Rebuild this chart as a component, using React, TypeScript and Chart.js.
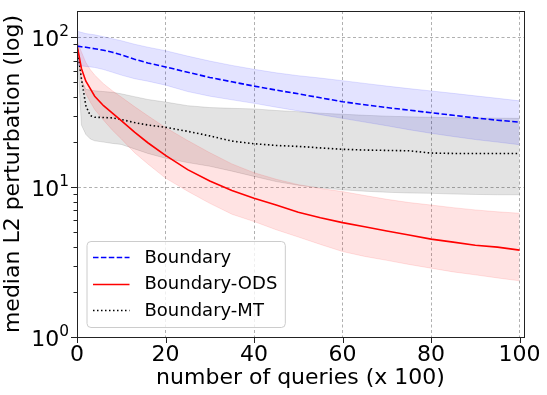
import React, { useEffect, useRef } from 'react';
import { Chart, registerables } from 'chart.js';

Chart.register(...registerables);

// number of queries (x 100)
const queries = [0, 1, 2, 3, 4, 6, 8, 10, 13, 16, 20, 25, 30, 35, 40, 45, 50, 55, 60, 65, 70, 75, 80, 85, 90, 95, 100];

// Boundary (blue dashed)
const boundaryMedian = [87.5, 86.5, 86, 85, 84, 82, 79.5, 76.5, 71.5, 67.5, 63.5, 58.5, 54, 50.5, 47.3, 44.5, 42, 39.5, 37.2, 35.5, 34, 32.7, 31.4, 30.2, 29, 28, 27.2];
const boundaryUpper = [110, 108, 106, 105, 104, 101, 98, 95, 90, 86, 81.5, 75, 69.5, 65, 61.2, 58, 55.5, 53.5, 51.4, 49.3, 47.3, 45.5, 43.9, 42.3, 40.7, 39.2, 37.7];
const boundaryLower = [65, 64.5, 64, 63.5, 63, 61, 58.5, 56, 53, 51, 48, 43.5, 40.5, 38.3, 36.3, 34.2, 32.3, 30.5, 28.8, 27.2, 25.7, 24.2, 22.9, 21.8, 20.8, 20, 19.2];

// Boundary-ODS (red solid)
const odsMedian = [89, 62, 51, 45.5, 40.5, 35, 31.2, 27.8, 23.3, 19.8, 16.3, 13.1, 11, 9.5, 8.45, 7.6, 6.8, 6.25, 5.8, 5.45, 5.1, 4.8, 4.5, 4.3, 4.1, 3.98, 3.8];
const odsUpper = [95, 80, 68, 61, 56, 49, 44, 40, 34.5, 30, 25, 20.5, 17, 14.3, 12.5, 11.3, 10.4, 9.8, 9.35, 8.8, 8.3, 7.9, 7.6, 7.3, 7.05, 6.85, 6.7];
const odsLower = [80, 52, 42, 37, 33, 28, 24, 21, 17, 14.3, 11.5, 9.4, 7.8, 6.6, 5.9, 5.2, 4.65, 4.15, 3.72, 3.45, 3.25, 3.05, 2.88, 2.72, 2.6, 2.48, 2.37];

// Boundary-MT (black dotted)
const mtMedian = [88, 53, 35, 30, 29.3, 29.2, 29, 28.3, 27, 26, 25.1, 23.6, 22, 20.3, 19.5, 19, 18.7, 18.3, 17.9, 17.7, 17.6, 17.5, 16.9, 16.8, 16.8, 16.8, 16.8];
const mtUpper = [88, 52, 45, 44.5, 44, 43.5, 43, 42, 40.2, 38.5, 37, 35, 34, 33.6, 33.3, 32.5, 31.9, 31.2, 30.7, 30.2, 29.8, 29.5, 29.3, 29.1, 29, 28.9, 28.8];
const mtLower = [85, 26, 22.5, 21, 20.4, 20, 19.6, 19.3, 18, 16.8, 15.6, 14.6, 13.8, 12.8, 11.8, 10.9, 10.3, 9.9, 9.6, 9.4, 9.25, 9.15, 9.1, 9.0, 8.95, 8.9, 8.9];

const seriesLabels = ['Boundary', 'Boundary-ODS', 'Boundary-MT'];
const xTickValues = [0, 20, 40, 60, 80, 100];
const yMajorValues = [1, 10, 100];
const yMinorValues = [2, 3, 4, 5, 6, 7, 8, 9, 20, 30, 40, 50, 60, 70, 80, 90];
const xTitle = 'number of queries (x 100)';
const yTitle = 'median L2 perturbation (log)';

const FONT = "'DejaVu Sans', sans-serif";

const pts = (ys: number[]) => queries.map((x, i) => ({ x, y: ys[i] }));

const lineStyles = [
  { color: '#0000ff', dash: [5.5, 2.4] },
  { color: '#ff0000', dash: [] as number[] },
  { color: '#000000', dash: [1.5, 2.5] },
];

const framePlugin = {
  id: 'frameAndLegend',
  afterDraw(chart: any) {
    const { ctx, chartArea: a, scales } = chart;
    const xs = scales.x;
    const ys = scales.y;
    ctx.save();
    // frame
    ctx.strokeStyle = '#222';
    ctx.lineWidth = 1;
    ctx.setLineDash([]);
    ctx.strokeRect(Math.round(a.left) + 0.5, Math.round(a.top) + 0.5, Math.round(a.right - a.left), Math.round(a.bottom - a.top));
    // tick marks
    ctx.beginPath();
    xTickValues.forEach((v) => {
      const px = Math.round(xs.getPixelForValue(v)) + 0.5;
      ctx.moveTo(px, a.bottom);
      ctx.lineTo(px, a.bottom + 6);
    });
    yMajorValues.forEach((v) => {
      const py = Math.round(ys.getPixelForValue(v)) + 0.5;
      ctx.moveTo(a.left - 6, py);
      ctx.lineTo(a.left, py);
    });
    yMinorValues.forEach((v) => {
      const py = Math.round(ys.getPixelForValue(v)) + 0.5;
      ctx.moveTo(a.left - 3.5, py);
      ctx.lineTo(a.left, py);
    });
    ctx.stroke();

    // y tick labels: 10 with raised exponent (mathtext style)
    ctx.fillStyle = '#000';
    ctx.textBaseline = 'alphabetic';
    ctx.textAlign = 'left';
    yMajorValues.forEach((v) => {
      const py = ys.getPixelForValue(v);
      const exp = String(Math.round(Math.log10(v)));
      ctx.font = `22px ${FONT}`;
      const wb = ctx.measureText('10').width;
      ctx.font = `15.4px ${FONT}`;
      const we = ctx.measureText(exp).width;
      const right = a.left - 8;
      const x0 = right - wb - we;
      const base = py + 8.5;
      ctx.font = `22px ${FONT}`;
      ctx.fillText('10', x0, base);
      ctx.font = `15.4px ${FONT}`;
      ctx.fillText(exp, x0 + wb, base - 9.5);
    });

    // legend
    const fs = 18;
    ctx.font = `${fs}px ${FONT}`;
    const textW = Math.max(...seriesLabels.map((l) => ctx.measureText(l).width));
    const padX = 6;
    const handle = 36.5;
    const gap = 15;
    const boxW = padX + handle + gap + textW + 8;
    const boxH = 86;
    const bx = a.left + 10;
    const by = a.bottom - 9.5 - boxH;
    const r = 4;
    ctx.beginPath();
    ctx.moveTo(bx + r, by);
    ctx.lineTo(bx + boxW - r, by);
    ctx.quadraticCurveTo(bx + boxW, by, bx + boxW, by + r);
    ctx.lineTo(bx + boxW, by + boxH - r);
    ctx.quadraticCurveTo(bx + boxW, by + boxH, bx + boxW - r, by + boxH);
    ctx.lineTo(bx + r, by + boxH);
    ctx.quadraticCurveTo(bx, by + boxH, bx, by + boxH - r);
    ctx.lineTo(bx, by + r);
    ctx.quadraticCurveTo(bx, by, bx + r, by);
    ctx.closePath();
    ctx.fillStyle = 'rgba(255,255,255,0.8)';
    ctx.fill();
    ctx.strokeStyle = '#cccccc';
    ctx.lineWidth = 1;
    ctx.stroke();

    const rowY = [by + 15.5, by + 42.3, by + 68.5];
    seriesLabels.forEach((label, i) => {
      const y = Math.round(rowY[i]) + 0.5;
      ctx.beginPath();
      ctx.strokeStyle = lineStyles[i].color;
      ctx.lineWidth = 1.5;
      ctx.setLineDash(lineStyles[i].dash);
      ctx.moveTo(bx + padX, y);
      ctx.lineTo(bx + padX + handle, y);
      ctx.stroke();
      ctx.setLineDash([]);
      ctx.fillStyle = '#000';
      ctx.textBaseline = 'middle';
      ctx.textAlign = 'left';
      ctx.fillText(label, bx + padX + handle + gap, rowY[i] + 1);
    });
    ctx.restore();
  },
};

export default function App() {
  const canvasRef = useRef<HTMLCanvasElement | null>(null);

  useEffect(() => {
    const canvas = canvasRef.current;
    if (!canvas) return;

    const band = (upper: number[], lower: number[], rgb: string, a: number) => [
      {
        label: 'upper',
        data: pts(upper),
        borderColor: `rgba(${rgb},${a})`,
        borderWidth: 1,
        backgroundColor: `rgba(${rgb},${a})`,
        fill: '+1',
        pointRadius: 0,
        tension: 0,
      },
      {
        label: 'lower',
        data: pts(lower),
        borderColor: `rgba(${rgb},${a})`,
        borderWidth: 1,
        backgroundColor: 'transparent',
        fill: false,
        pointRadius: 0,
        tension: 0,
      },
    ];

    const lines = [boundaryMedian, odsMedian, mtMedian].map((ys, i) => ({
      label: seriesLabels[i],
      data: pts(ys),
      borderColor: lineStyles[i].color,
      borderWidth: 1.6,
      borderDash: lineStyles[i].dash,
      backgroundColor: 'transparent',
      fill: false,
      pointRadius: 0,
      tension: 0,
    }));

    const chart = new Chart(canvas, {
      type: 'line',
      data: {
        datasets: [
          ...lines,
          ...band(boundaryUpper, boundaryLower, '0,0,255', 0.11),
          ...band(odsUpper, odsLower, '255,0,0', 0.11),
          ...band(mtUpper, mtLower, '0,0,0', 0.11),
        ] as any,
      },
      options: {
        responsive: false,
        animation: false,
        devicePixelRatio: 1,
        layout: { padding: { top: 11, right: 23, left: 0, bottom: 0 } },
        plugins: {
          legend: { display: false },
          tooltip: { enabled: false },
        },
        scales: {
          x: {
            type: 'linear',
            min: 0,
            max: 101,
            afterBuildTicks: (s: any) => {
              s.ticks = xTickValues.map((v) => ({ value: v }));
            },
            afterFit: (s: any) => {
              s.height = 58;
              s.paddingLeft = 0;
              s.paddingRight = 0;
            },
            grid: { color: '#b0b0b0', lineWidth: 1, drawTicks: false },
            border: { display: true, color: '#222', width: 1, dash: [3, 2.5] },
            ticks: {
              color: '#000',
              font: { family: FONT, size: 22 },
              padding: 5,
              maxRotation: 0,
              autoSkip: false,
            },
            title: {
              display: true,
              text: xTitle,
              color: '#000',
              font: { family: FONT, size: 22 },
              padding: { top: 0, bottom: 4 },
            },
          },
          y: {
            type: 'logarithmic',
            min: 1,
            max: 150,
            afterBuildTicks: (s: any) => {
              s.ticks = [...yMajorValues, ...yMinorValues].sort((p, q) => p - q).map((v) => ({ value: v, major: yMajorValues.includes(v) }));
            },
            afterFit: (s: any) => {
              s.width = 77;
              s.paddingTop = 0;
              s.paddingBottom = 0;
            },
            grid: {
              color: (c: any) => (c.tick && yMajorValues.includes(c.tick.value) ? '#b0b0b0' : 'transparent'),
              lineWidth: 1,
              drawTicks: false,
            },
            border: { display: true, color: '#222', width: 1, dash: [3, 2.5] },
            ticks: { display: false },
            title: {
              display: true,
              text: yTitle,
              color: '#000',
              font: { family: FONT, size: 22 },
              padding: { top: 0, bottom: 0 },
            },
          },
        },
      } as any,
      plugins: [framePlugin],
    });

    return () => chart.destroy();
  }, []);

  return (
    <div style={{ position: 'fixed', left: 0, top: 0, width: 547, height: 395, background: '#fff' }}>
      <canvas ref={canvasRef} width={547} height={395} style={{ display: 'block' }} />
    </div>
  );
}
